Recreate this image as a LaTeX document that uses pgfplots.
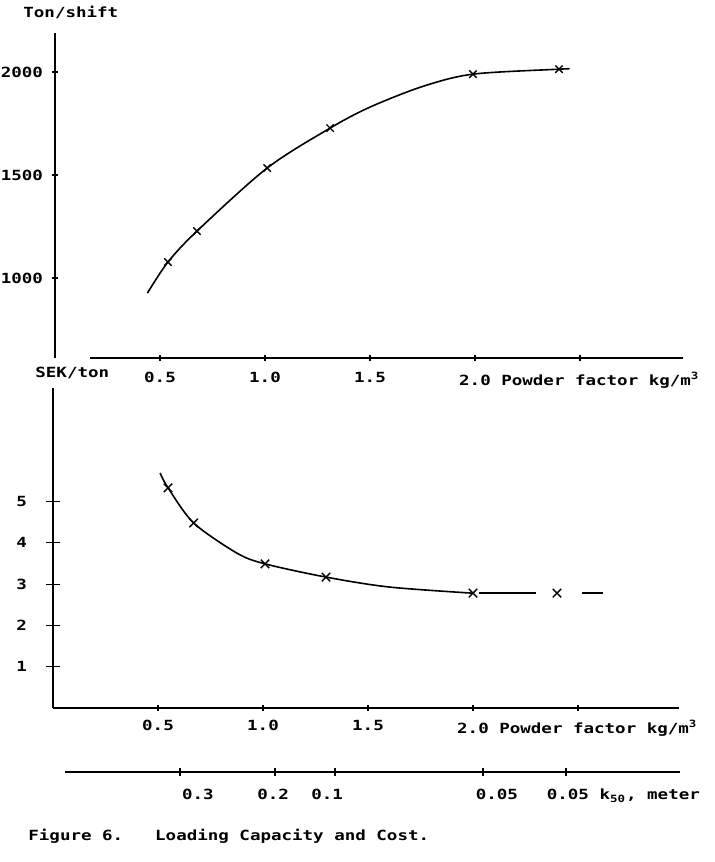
\documentclass[border=0pt]{standalone}
\usepackage{fontspec}
\setmainfont{DejaVu Sans Mono}[FakeStretch=1.25]
\usepackage{pgfplots}
\pgfplotsset{compat=1.18}

\newcommand{\tw}{\fontsize{7}{8}\selectfont\bfseries}
\pgfplotsset{
  typed/.style={
    clip=false, x=105pt,
    axis x line=bottom, axis y line=left,
    axis line style={draw=none,-},
    /pgf/number format/assume math mode=true,
    tick label style={font=\tw, text=black},
    tick style={black, line width=0.6pt},
    xmin=0,
  },
}

\begin{document}
\begin{tikzpicture}
\path[use as bounding box] (0,0) rectangle (357pt,-431pt);

% upper panel: loading capacity
\begin{axis}[typed,
  at={(27.5pt,-179pt)}, anchor=south west,
  y=0.103pt, xmax=2.99, ymin=612, ymax=2189,
  xtick={0.5,1,1.5,2,2.5},
  xticklabels={0.5,1.0,1.5,{2.0\rlap{ Powder factor kg/m\textsuperscript{3}}},{}},
  ytick={1000,1500,2000}, yticklabels={1000,1500,2000},
  tick align=center, major tick length=3pt,
  xticklabel style={yshift=-2pt},
  yticklabel style={xshift=-1pt},
]
\draw[line width=1.2pt] (axis cs:0.167,612) -- (axis cs:2.99,612);
\draw[line width=0.8pt] (axis cs:0,612) -- (axis cs:0,2189);
\addplot[black, line width=0.8pt, smooth, tension=0.5] coordinates {
  (0.44,927) (0.538,1078) (0.676,1228) (1.01,1534) (1.31,1728)
  (1.5,1830) (1.75,1930) (1.99,1990) (2.40,2014) (2.45,2016)};
\addplot[black, only marks, mark=x, mark size=2.6pt, mark options={line width=0.7pt}] coordinates {
  (0.538,1078) (0.676,1228) (1.01,1534) (1.31,1728) (1.99,1990) (2.40,2014)};
\end{axis}

% lower panel: cost
\begin{axis}[typed,
  at={(26.5pt,-354pt)}, anchor=south west,
  y=20.65pt, xmax=2.98, ymin=0, ymax=7.75,
  xtick={0.5,1,1.5,2},
  xticklabels={0.5,1.0,1.5,{2.0\rlap{ Powder factor kg/m\textsuperscript{3}}}},
  xtick style={draw=none},
  extra x ticks={0.5,1,1.5,2,2.5}, extra x tick labels={},
  extra x tick style={major tick length=3pt, xtick style={draw=black}},
  ytick={1,2,3,4,5},
  tick align=center, major tick length=7pt,
  xticklabel style={yshift=1pt},
  yticklabel style={xshift=-6pt},
]
\draw[line width=1.1pt] (axis cs:0,0) -- (axis cs:2.98,0);
\draw[line width=0.8pt] (axis cs:0,0) -- (axis cs:0,7.75);
\addplot[black, line width=0.8pt, smooth, tension=0.5] coordinates {
  (0.51,5.69) (0.548,5.33) (0.67,4.48) (0.876,3.75) (1.01,3.49)
  (1.30,3.17) (1.6,2.93) (2.0,2.78)};
\addplot[black, line width=0.8pt] coordinates {(2.03,2.78) (2.30,2.78)};
\addplot[black, line width=0.8pt] coordinates {(2.52,2.78) (2.62,2.78)};
\addplot[black, only marks, mark=x, mark size=3pt, mark options={line width=0.7pt}] coordinates {
  (0.548,5.33) (0.67,4.48) (1.01,3.49) (1.30,3.17) (2.0,2.78) (2.40,2.78)};
\end{axis}

% k50 scale
\begin{axis}[typed,
  at={(26.5pt,-386pt)}, anchor=south west,
  axis y line=none,
  y=1pt, xmax=2.98, ymin=0, ymax=1,
  xtick={0.690,1.048,1.305,2.114,2.452},
  xticklabels={0.3,0.2,0.1,0.05,{0.05\rlap{ k\textsubscript{50}, meter}}},
  xtick style={draw=none},
  extra x ticks={0.605,1.057,1.343,2.048,2.443},
  extra x tick labels={},
  extra x tick style={major tick length=4pt, tick align=center, xtick style={draw=black}},
  xticklabel style={yshift=-3pt},
]
\draw[line width=1.2pt] (axis cs:0.057,0) -- (axis cs:2.986,0);
\end{axis}

\node[anchor=base west, inner sep=0, font=\tw] at (11.5pt,-9pt) {Ton/shift};
\node[anchor=base west, inner sep=0, font=\tw] at (17.5pt,-188.5pt) {SEK/ton};
\node[anchor=base west, inner sep=0, font=\tw] at (14pt,-420pt)
  {Figure 6.\hspace{16pt}Loading Capacity and Cost.};
\end{tikzpicture}
\end{document}
